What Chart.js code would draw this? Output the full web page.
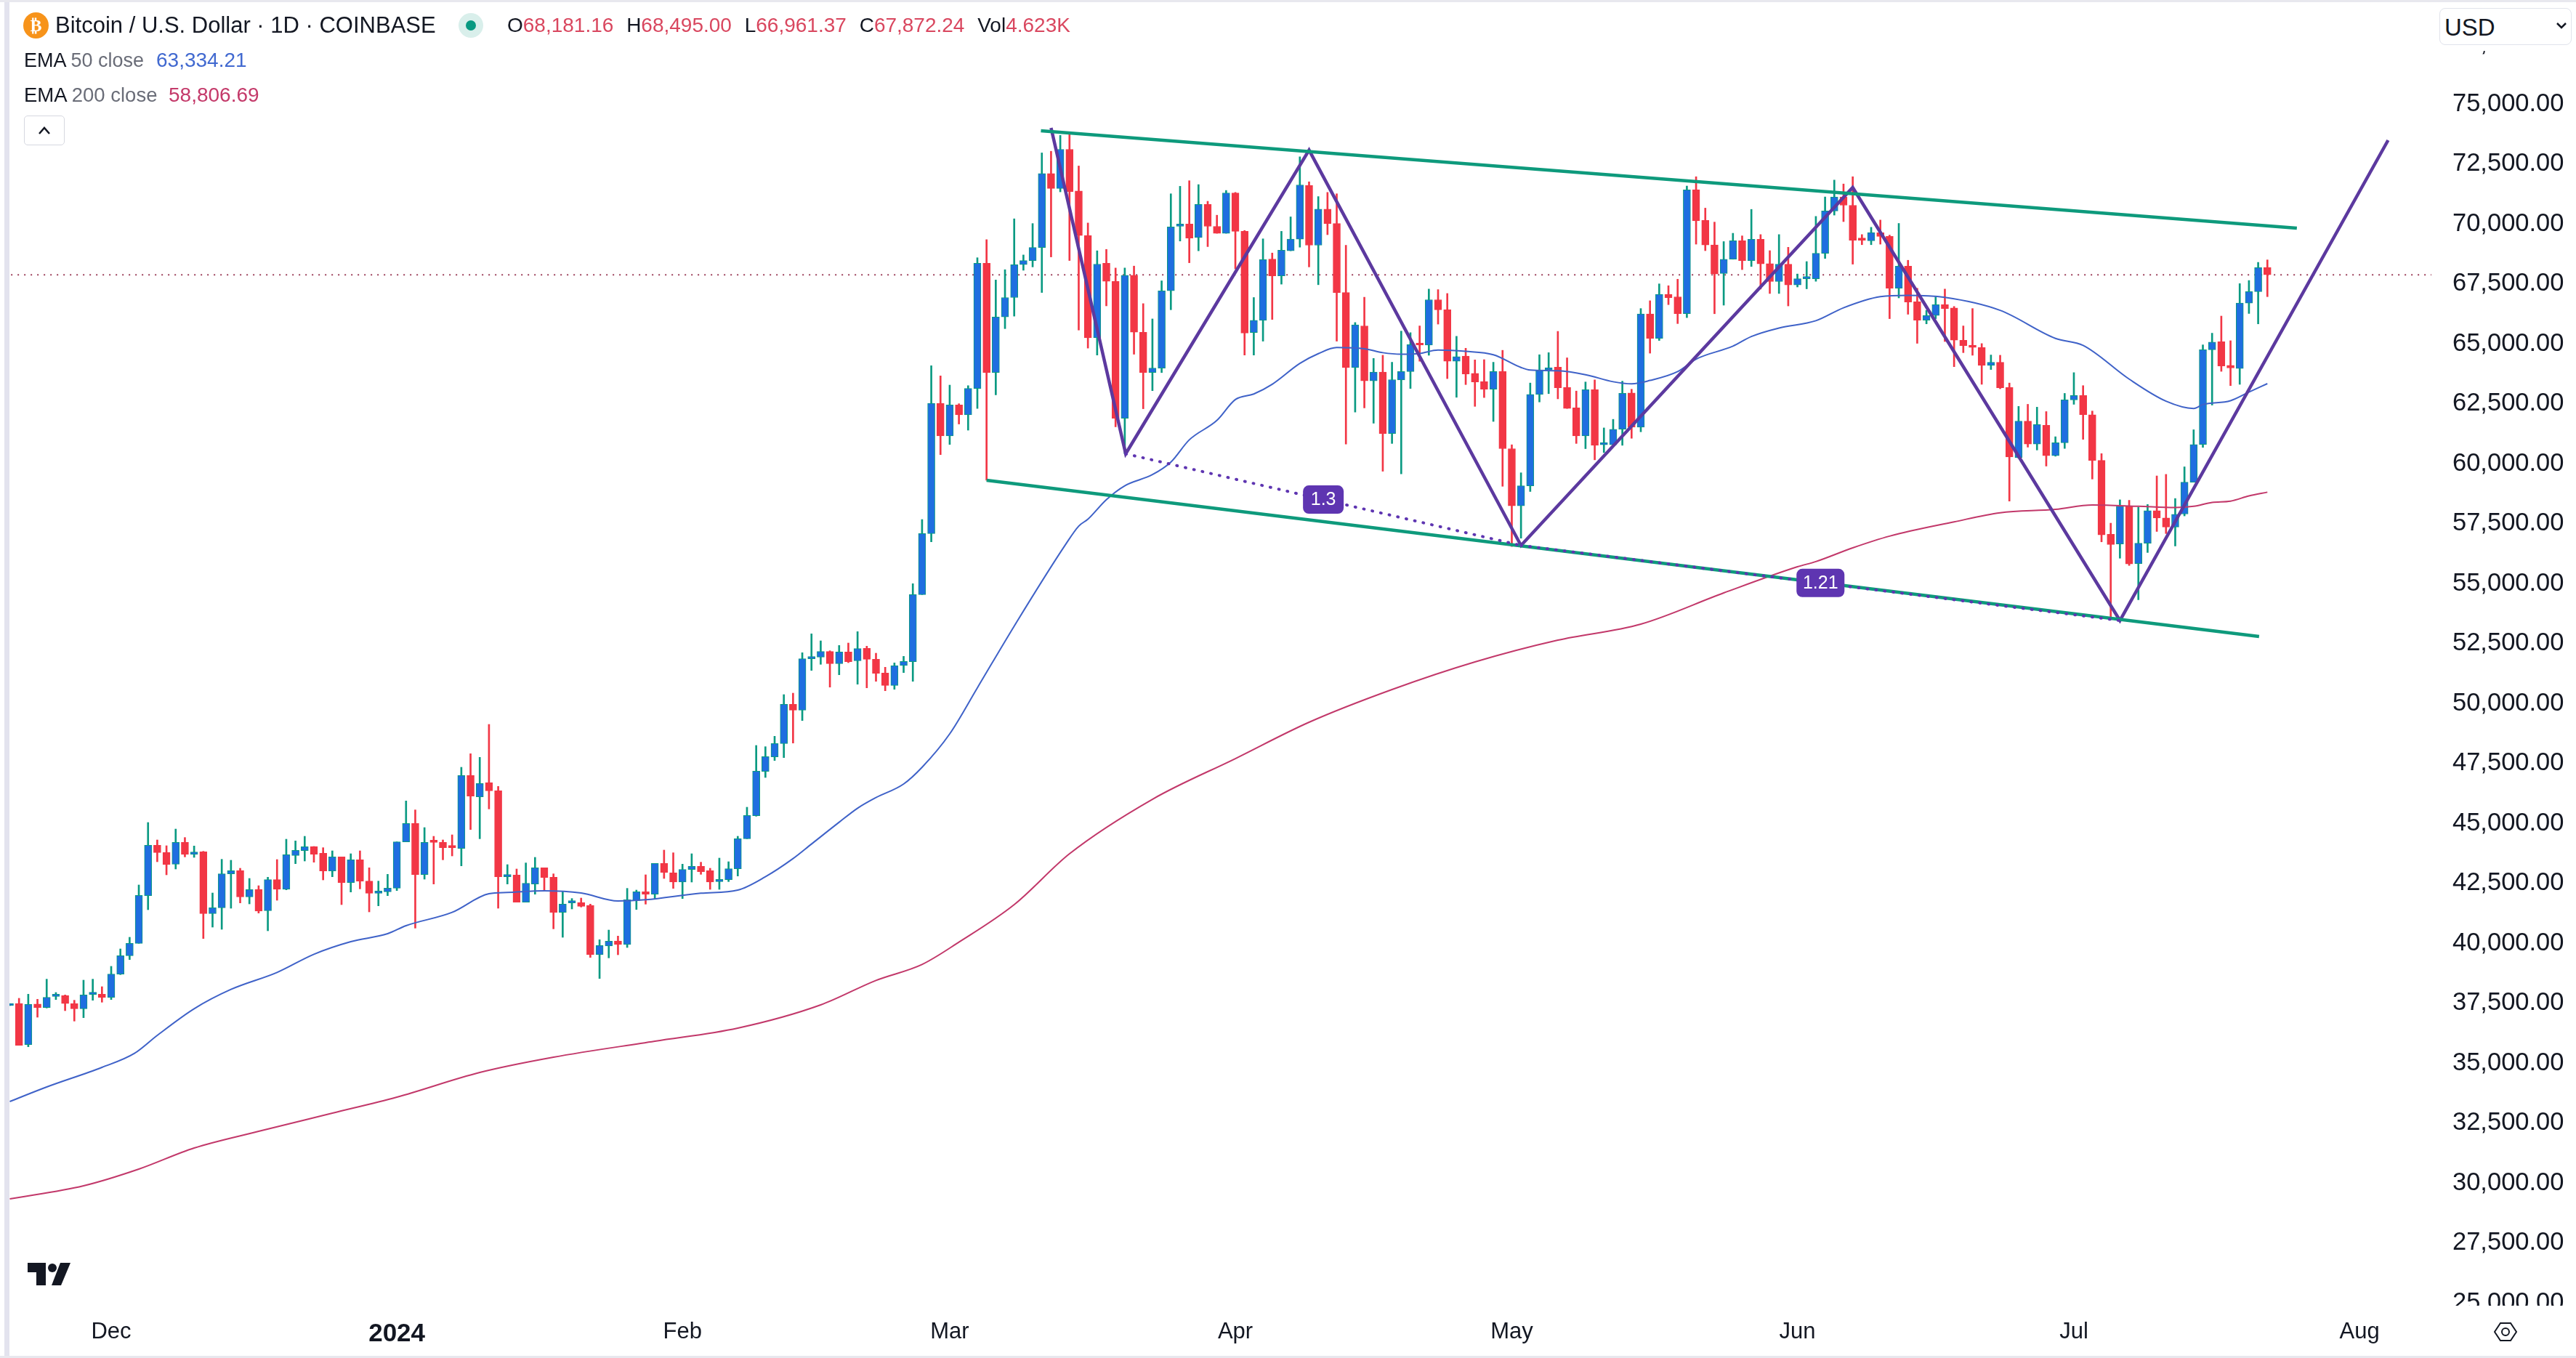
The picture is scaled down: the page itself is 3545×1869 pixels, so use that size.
<!DOCTYPE html>
<html>
<head>
<meta charset="utf-8">
<title>Bitcoin / U.S. Dollar</title>
<script src="https://cdn.jsdelivr.net/npm/chart.js@4/dist/chart.umd.min.js"></script>
<style>
  html, body { margin: 0; padding: 0; background: #fff; }
  body { width: 3545px; height: 1869px; position: relative; overflow: hidden; font-family: "Liberation Sans", sans-serif; color: #131722; }
  canvas { position: absolute; left: 0; top: 0; }
  .abs { position: absolute; white-space: nowrap; }
  .up { color: #d9475f; }
  .mute { color: #6a6d78; }
</style>
</head>
<body>
<canvas id="chart" width="3545" height="1869"></canvas>

<!-- frame around the chart -->
<div class="abs" style="left:0;top:0;width:6px;height:1869px;background:#fff"></div>
<div class="abs" style="left:6px;top:0;width:7px;height:1869px;background:#e3e3ee"></div>
<div class="abs" style="left:0;top:0;width:3545px;height:3px;background:#e8e8ee"></div>
<div class="abs" style="left:0;top:1866px;width:3545px;height:3px;background:#e8e8ee"></div>

<!-- header -->
<div class="abs" style="left:32px;top:17px;width:35px;height:36px;border-radius:50%;background:#f7931a;color:#fff;font:bold 24px/36px 'DejaVu Sans';text-align:center">₿</div>
<div class="abs" id="title" style="left:76px;top:16px;font-size:31px;line-height:38px">Bitcoin / U.S. Dollar · 1D · COINBASE</div>
<div class="abs" style="left:631px;top:18px;width:34px;height:34px;border-radius:50%;background:#d9efeb"></div>
<div class="abs" style="left:641px;top:28px;width:14px;height:14px;border-radius:50%;background:#089981"></div>
<div class="abs" id="ohlc" style="left:698px;top:18px;font-size:28px;line-height:34px;word-spacing:10px">O<span class="up">68,181.16</span> H<span class="up">68,495.00</span> L<span class="up">66,961.37</span> C<span class="up">67,872.24</span> Vol<span class="up">4.623K</span></div>
<div class="abs" style="left:33px;top:66px;font-size:27px;line-height:34px">EMA <span class="mute">50 close</span></div>
<div class="abs" style="left:215px;top:66px;font-size:28px;line-height:34px;color:#4169d0">63,334.21</div>
<div class="abs" style="left:33px;top:114px;font-size:27.5px;line-height:34px">EMA <span class="mute">200 close</span></div>
<div class="abs" style="left:232px;top:114px;font-size:28px;line-height:34px;color:#c43a6a">58,806.69</div>
<div class="abs" style="left:33px;top:159px;width:54px;height:39px;border:1px solid #d6d8e0;border-radius:5px;background:#fff">
  <svg width="54" height="39"><path d="M20 24 L27 16 L34 24" fill="none" stroke="#131722" stroke-width="2.5"/></svg>
</div>

<!-- currency box sits over the 77,500 label, only the comma tail stays visible -->
<div class="abs" style="left:3350px;top:3px;width:195px;height:67px;background:#fff"></div>
<div class="abs" style="left:3357px;top:11px;width:180px;height:49px;border:1px solid #e0e3eb;border-radius:8px;background:#fff">
  <span class="abs" style="left:6px;top:7px;font-size:33px;line-height:38px">USD</span>
  <svg class="abs" style="left:158px;top:16px" width="18" height="14"><path d="M3 4 L9 10 L15 4" fill="none" stroke="#131722" stroke-width="2.5"/></svg>
</div>

<!-- clips the 25,000.00 label like the price pane does -->
<div class="abs" style="left:3346px;top:1797px;width:199px;height:20px;background:#fff"></div>

<!-- logo and settings icon -->
<svg class="abs" style="left:38px;top:1738px" width="60" height="31" viewBox="0 0 60 31">
  <path d="M0 0 H25 V31 H12 V13 H0 Z" fill="#131722"/>
  <circle cx="34" cy="7" r="6" fill="#131722"/>
  <path d="M45 0 H59 L46 31 H33 Z" fill="#131722"/>
</svg>
<svg class="abs" style="left:3431px;top:1818px" width="34" height="30" viewBox="0 0 34 30">
  <path d="M2 15 L10 3 H24 L32 15 L24 27 H10 Z" fill="none" stroke="#131722" stroke-width="2"/>
  <circle cx="17" cy="15" r="5" fill="none" stroke="#131722" stroke-width="2"/>
</svg>

<script>
// Candles, one per day. Day 0 is 1 Dec 2023, the first candle is day -11.
const firstDay = -11;
const opens = [
  37395,37486,35769,37456,37314,37778,37819,37476,37263,37859,37869,
  37738,38707,39475,39990,41980,44081,43778,43293,44202,43697,
  43808,41232,41475,42889,43030,41929,42242,41354,42647,42242,
  43657,43859,44030,43747,43010,43596,42525,43475,42586,42081,
  42141,42293,44222,44990,42859,44242,44202,44020,43950,46990,
  46101,46697,46353,42768,42839,41708,42465,43142,42748,41283,
  41677,41687,41576,39515,39879,40091,39940,41778,42141,42041,
  43323,42930,42546,43071,43202,43020,42566,42647,43101,44354,
  45313,47162,47768,48323,49960,49717,51859,51930,52162,51657,
  52141,51778,52293,51838,51263,50748,51576,51738,54535,57080,
  62515,61151,62444,62031,63133,68352,63794,66113,66925,68294,
  68468,69013,72098,71471,73106,71367,69511,65244,68352,67598,
  61892,67853,65476,63794,63980,67204,69894,69987,69430,70810,
  69894,69604,71286,69685,65464,65974,68526,67830,68874,69361,
  71599,69106,70613,70010,67134,64003,65743,63446,63814,61249,
  63489,63836,64993,64939,66833,66411,64268,64485,63760,63424,
  63100,63836,60621,58240,59074,62883,63900,64020,63175,62320,
  61151,63078,60783,60783,61433,62948,61519,66238,65221,67061,
  66953,66249,71422,70145,69117,67927,68522,69290,68468,69355,
  68338,67591,68316,67450,67710,67710,68771,70535,71119,70773,
  69377,69290,69626,69474,67310,68230,66747,65978,66173,66628,
  66487,65145,64939,64842,64095,64225,63174,60252,61768,60815,
  61594,60328,60869,62655,62839,62038,60133,57049,56648,58218,
  55826,56680,58034,57731,57352,57893,59225,60794,64744,65080,
  64095,63965,66692,67168,68181
];
const highs = [
  37465,37698,37870,37658,38496,37940,37839,37617,38455,38496,38182,
  39031,39758,40243,42425,45030,44303,44061,44757,44404,44051,
  43828,42091,43495,43455,43121,42697,42394,42748,43485,44333,
  44263,44454,44030,43980,43848,43596,43727,43848,43141,42586,
  42869,44222,45929,45556,44818,44454,44303,44515,47333,47899,
  47747,49121,46535,43273,43091,43344,43576,43142,42889,42162,
  41859,41879,41627,40141,40545,40293,42283,42212,42849,43323,
  43879,43768,43293,43727,43374,43121,43546,43394,44455,45667,
  48243,48192,48626,50364,50424,52111,52899,52606,52192,52414,
  52515,52990,52384,52091,51505,51687,51960,54990,57666,64080,
  63656,63272,62495,63249,68584,69337,67656,68085,70207,68700,
  70010,72956,73025,73686,73744,72411,70033,68874,68932,68155,
  68155,68236,66670,66032,67621,71251,71564,71796,71634,70938,
  70358,71390,71309,69720,66925,69372,68781,69685,70288,72793,
  71750,71135,71309,71251,69106,65882,66937,64385,64517,64225,
  65524,65459,65740,67277,67255,67093,65307,64809,64323,64333,
  64225,64723,60783,59615,63359,64539,64625,65513,64409,63024,
  63402,63489,61487,61844,63435,63100,66465,66790,67494,67418,
  67688,71574,71963,70654,70070,69258,69604,69496,70600,69550,
  68879,69550,69020,67905,68424,70308,71119,71823,71660,71963,
  69550,69853,70156,69528,70015,68478,67310,66390,66952,67277,
  66552,65740,66465,65004,64528,64517,63359,62385,62471,62352,
  62168,61118,62926,63792,63250,62190,60415,57514,58488,58467,
  58185,58293,59484,59549,58542,59863,61410,64950,65437,66151,
  65123,67504,67634,68391,68495
];
const lows = [
  37395,35738,35678,36910,37294,37647,37183,36748,36890,37617,37536,
  37647,38687,39314,39990,41394,43394,42849,43091,43596,43576,
  40192,40667,40576,41455,41677,41636,41253,40515,41788,42222,
  43313,43424,43374,42636,42768,41606,42131,42263,41303,41556,
  41980,42192,44222,40626,42667,42465,43475,43636,43222,44737,
  44353,45596,41455,42465,41708,41708,42041,42212,40596,40243,
  41424,41505,39404,38525,39384,39515,39818,41404,41626,41859,
  42697,42283,41859,42546,42869,42243,42243,42566,42798,44354,
  45293,46909,47616,47738,48344,49283,51374,51627,50677,51192,
  51697,50798,50647,50919,50525,50586,51283,50919,54535,56737,
  60373,60798,61649,61393,62298,59306,62866,65627,66148,68062,
  68201,67134,68618,71332,68468,65568,64815,64525,66577,61532,
  60408,64560,62286,63040,63794,66415,69280,68375,68874,69048,
  69604,69604,68120,64525,64525,65105,66009,67482,68874,69025,
  68201,67459,69546,65105,60813,62147,62321,61683,59680,60838,
  59571,63132,64268,64517,65816,63543,62764,63294,62385,62753,
  61757,59052,56541,56887,58835,62569,62916,62699,62299,60838,
  60621,60156,60459,60762,60762,61054,61325,64604,65134,66628,
  65838,66087,69150,68879,66249,66606,68522,68089,68219,67277,
  67093,67093,66574,67364,67288,67602,68554,70362,70091,68316,
  69128,69128,69150,66043,66909,66227,65015,65827,66043,65091,
  64041,64626,64517,63305,63922,63121,58434,60220,60685,60566,
  59895,60307,60631,62471,61010,59354,56735,53510,56053,55750,
  54321,56291,57168,57081,56562,57817,59225,60675,62439,63846,
  63250,63304,66259,65826,66961
];
const closes = [
  37465,35738,37445,37314,37738,37839,37476,37263,37839,37920,37738,
  38707,39475,39990,41990,44081,43778,43273,44202,43697,43798,
  41232,41475,42889,43020,41929,42232,41334,42647,42242,43687,
  43869,44020,43707,43010,43596,42525,43475,42586,42081,42131,
  42293,44222,44990,42859,44202,44202,43980,43980,46990,46131,
  46656,46353,42768,42828,41708,42495,43142,42738,41283,41627,
  41717,41535,39515,39899,40081,39940,41808,42141,42041,43323,
  42950,42546,43071,43202,42980,42546,42657,43101,44354,45323,
  47172,47778,48323,49960,49717,51859,51940,52162,51657,52141,
  51738,52283,51838,51253,50748,51576,51748,54535,57080,62515,
  61151,62444,62031,63133,68352,63794,66113,66925,68294,68468,
  69013,72098,71471,73106,71344,69511,65244,68317,67598,61892,
  67853,65476,63794,63980,67204,69871,69987,69407,70810,69894,
  69604,71286,69685,65441,65974,68502,67830,68897,69361,71622,
  69106,70613,70010,67134,64003,65789,63446,63817,61249,63500,
  63836,64961,64939,66833,66411,64268,64463,63738,63402,63100,
  63836,60621,58240,59074,62883,63868,64000,63165,62299,61151,
  63078,60762,60848,61433,62926,61519,66238,65221,67061,66920,
  66249,71412,70124,69117,67905,68522,69290,68468,69355,68327,
  67591,68316,67450,67710,67764,68771,70535,71119,70773,69312,
  69312,69637,69474,67310,68230,66736,65978,66173,66628,66465,
  65145,64918,64842,64095,64225,63164,60274,61768,60815,61627,
  60328,60869,62655,62839,62038,60133,57027,56627,58218,55815,
  56680,58034,57731,57352,57882,59225,60794,64744,65069,64073,
  63986,66692,67168,68175,67872
];

const ema50Days = [-11,-7,-1,2.5,5,9,13,18,22,26,30,32,37,41,43,47,51,55,58,64,68,71,74,76,79,81,83,86,88,91,94,98,103.6,105,106,108,110,113,115,117,120,122,124,126,129,131,133,136,138,140,142,144,147,150,153,154,157,160,163,165,167,170,172,176,178,181,185,188,192,195,199,205,211,214,219,223,226,227,230,232,234];
const ema50Values = [33394,33999,34818,35395,36152,37263,38070,38778,39536,40061,40394,40727,41283,42061,42112,42182,42091,41758,41808,42081,42212,42768,43525,44132,45041,45627,46071,46637,47334,48728,50647,53222,56639,57392,57682,58494,59074,59538,60060,60988,61800,62669,62901,63307,64177,64583,64838,64790,64625,64561,64593,64734,64680,64539,64008,63900,63868,63706,63413,63327,63467,63836,64355,64896,65300,65654,65957,66498,66963,67017,66931,66390,65221,64928,63522,62602,62298,62460,62623,62980,63334];
const ema200Days = [-11,-3,3,9,16,24,31,40,48,59,68,77,83,88,92,98,104,113,122,130,139,148,157,166,175,183,185,189,193,200,205,211,215,220,224,226,228,230,232,234];
const ema200Values = [29333,29879,30576,31455,32151,32909,33576,34606,35243,35909,36455,37424,38445,39111,40041,41606,43727,45999,47696,49212,50576,51727,52636,53303,54606,55696,55913,56486,56974,57569,57948,58088,58273,58218,58164,58218,58381,58434,58651,58807];

// Drawings on the chart
const channelTopDays = [100.9, 237.2];
const channelTopPrices = [73879, 69818];
const channelBottomDays = [95, 233.1];
const channelBottomPrices = [59303, 52788];
const zigzagDays = [102, 110.1, 130, 153, 189, 218, 247.1];
const zigzagPrices = [74000, 60409, 73073, 56585, 71515, 53454, 73485];
const ratioDays = [[110.1, 153], [153, 218]];
const ratioPrices = [[60409, 56585], [56585, 53454]];
const ratioLabels = ['1.3', '1.21'];
const lastPrice = 67872.24;

// Axes
const monthDays = [0, 31, 62, 91, 122, 152, 183, 213, 244];
const monthLabels = ['Dec', '2024', 'Feb', 'Mar', 'Apr', 'May', 'Jun', 'Jul', 'Aug'];
const priceTicks = [25000,27500,30000,32500,35000,37500,40000,42500,45000,47500,50000,52500,55000,57500,60000,62500,65000,67500,70000,72500,75000,77500];

const BLUE = '#1f6ee0';
const TEAL = '#0a9a82';
const RED = '#f23645';

function toPoints(days, values) {
    return days.map((d, i) => ({ x: d, y: values[i] }));
}

function drawing(days, values, color, width, dash) {
    return {
        type: 'line',
        data: toPoints(days, values),
        borderColor: color,
        borderWidth: width,
        borderDash: dash || [],
        borderCapStyle: dash ? 'round' : 'butt',
        pointRadius: 0,
        tension: 0,
        order: 1
    };
}

function emaLine(days, values, color) {
    return {
        type: 'line',
        data: toPoints(days, values),
        borderColor: color,
        borderWidth: 2,
        pointRadius: 0,
        cubicInterpolationMode: 'monotone',
        order: 2
    };
}

const isUp = opens.map((o, i) => closes[i] >= o);

// Small purple tags in the middle of the dotted lines
const ratioTags = {
    id: 'ratioTags',
    afterDatasetsDraw(chart) {
        const { ctx, scales } = chart;
        ratioLabels.forEach((text, i) => {
            const x = scales.x.getPixelForValue((ratioDays[i][0] + ratioDays[i][1]) / 2);
            const y = scales.y.getPixelForValue((ratioPrices[i][0] + ratioPrices[i][1]) / 2);
            const w = text.length > 3 ? 66 : 56;
            ctx.save();
            ctx.fillStyle = '#5e35b1';
            ctx.beginPath();
            ctx.roundRect(x - w / 2, y - 19.5, w, 39, 8);
            ctx.fill();
            ctx.fillStyle = '#fff';
            ctx.font = '25px "Liberation Sans"';
            ctx.textAlign = 'center';
            ctx.textBaseline = 'middle';
            ctx.fillText(text, x, y + 1);
            ctx.restore();
        });
    }
};

new Chart(document.getElementById('chart'), {
    type: 'bar',
    data: {
        datasets: [
            drawing(ratioDays[0], ratioPrices[0], '#5e35b1', 4, [1, 11]),
            drawing(ratioDays[1], ratioPrices[1], '#5e35b1', 4, [1, 11]),
            drawing(channelTopDays, channelTopPrices, '#0e9a7c', 4.5),
            drawing(channelBottomDays, channelBottomPrices, '#0e9a7c', 4.5),
            drawing(zigzagDays, zigzagPrices, '#5c399f', 4.5),
            emaLine(ema50Days, ema50Values, '#3f62c8'),
            emaLine(ema200Days, ema200Values, '#c2386a'),
            {
                type: 'line',
                data: toPoints([-13, 252], [lastPrice, lastPrice]),
                borderColor: '#9c3f5a',
                borderWidth: 2,
                borderDash: [2, 7],
                pointRadius: 0,
                tension: 0,
                order: 5
            },
            {
                // bodies
                data: opens.map((o, i) => ({ x: firstDay + i, y: [o, closes[i]] })),
                backgroundColor: isUp.map(u => u ? BLUE : RED),
                borderColor: isUp.map(u => u ? TEAL : RED),
                borderWidth: 1,
                borderSkipped: false,
                barThickness: 10,
                minBarLength: 3,
                grouped: false,
                order: 3
            },
            {
                // wicks
                data: highs.map((h, i) => ({ x: firstDay + i, y: [lows[i], h] })),
                backgroundColor: isUp.map(u => u ? TEAL : RED),
                barThickness: 2,
                grouped: false,
                order: 4
            }
        ]
    },
    options: {
        responsive: false,
        animation: false,
        events: [],
        layout: { padding: 0 },
        plugins: { legend: { display: false }, tooltip: { enabled: false } },
        scales: {
            x: {
                type: 'linear',
                offset: false,
                min: -12.066,
                max: 251.8,
                grid: { display: false },
                border: { display: false },
                afterBuildTicks: s => { s.ticks = monthDays.map(v => ({ value: v })); },
                afterFit: s => { s.height = 72; s.paddingLeft = 0; s.paddingRight = 0; },
                ticks: {
                    autoSkip: false,
                    maxRotation: 0,
                    padding: 10,
                    color: '#131722',
                    font: ctx => {
                        const bold = ctx.tick && ctx.tick.value === 31;
                        return { family: 'Liberation Sans', size: bold ? 35 : 31, weight: bold ? 'bold' : 'normal' };
                    },
                    callback: v => monthLabels[monthDays.indexOf(v)]
                }
            },
            y: {
                position: 'right',
                min: 24879,
                max: 79333,
                grid: { display: false },
                border: { display: false },
                afterBuildTicks: s => { s.ticks = priceTicks.map(v => ({ value: v })); },
                afterFit: s => { s.width = 199; s.paddingTop = 0; s.paddingBottom = 0; },
                ticks: {
                    autoSkip: false,
                    padding: 21,
                    color: '#131722',
                    font: { family: 'Liberation Sans', size: 34.5 },
                    callback: v => v.toLocaleString('en-US', { minimumFractionDigits: 2 })
                }
            }
        }
    },
    plugins: [ratioTags]
});
</script>
</body>
</html>
